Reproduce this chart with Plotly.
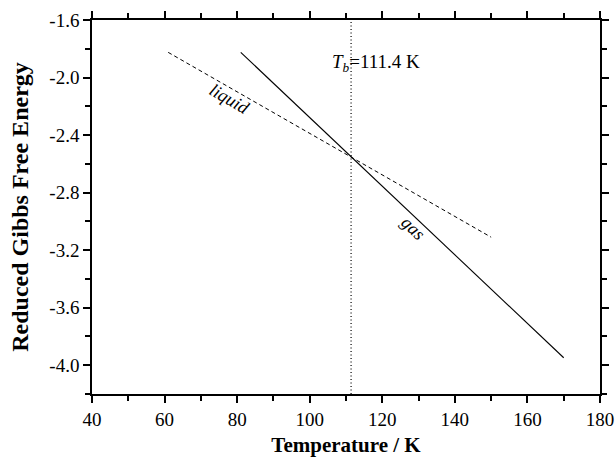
import plotly.graph_objects as go

liquid_T = [61, 150]
liquid_G = [-1.825, -3.11]
gas_T = [81, 170]
gas_G = [-1.825, -3.948]
Tb = 111.4
x_range = [40, 180]
y_range = [-4.2, -1.6]
x_ticks = [40, 60, 80, 100, 120, 140, 160, 180]
y_ticks = [-1.6, -2.0, -2.4, -2.8, -3.2, -3.6, -4.0]
y_ticklabels = ["-1.6", "-2.0", "-2.4", "-2.8", "-3.2", "-3.6", "-4.0"]

font_family = "Liberation Serif, Times New Roman, serif"

fig = go.Figure()
fig.add_trace(go.Scatter(x=liquid_T, y=liquid_G, mode="lines",
                         line=dict(color="black", width=1, dash="4px,3px"), showlegend=False))
fig.add_trace(go.Scatter(x=gas_T, y=gas_G, mode="lines",
                         line=dict(color="black", width=1.1), showlegend=False))
fig.add_trace(go.Scatter(x=[Tb, Tb], y=y_range, mode="lines",
                         line=dict(color="black", width=1.2, dash="1px,2.5px"), showlegend=False))

fig.add_annotation(x=118.2, y=-1.9, text="<i>T</i><sub><i>b</i></sub>=111.4 K",
                   showarrow=False, font=dict(size=19, family=font_family, color="black"))
fig.add_annotation(x=77.9, y=-2.15, text="<i>liquid</i>", textangle=30,
                   showarrow=False, font=dict(size=18, family=font_family, color="black"))
fig.add_annotation(x=128.5, y=-3.043, text="<i>gas</i>", textangle=44,
                   showarrow=False, font=dict(size=18, family=font_family, color="black"))

axis_common = dict(showgrid=False, zeroline=False, showline=True, linecolor="black",
                   linewidth=1.6, ticks="outside", ticklen=7, tickwidth=1.5,
                   tickcolor="black", mirror="ticks", automargin=False,
                   tickfont=dict(size=19, family=font_family, color="black"))

fig.update_xaxes(range=x_range, tickvals=x_ticks,
                 minor=dict(dtick=10, tick0=40, ticks="outside", ticklen=5, tickwidth=1.5, tickcolor="black"),
                 title=dict(text="<b>Temperature / K</b>", font=dict(size=21, family=font_family, color="black"),
                            standoff=16),
                 **axis_common)
fig.update_yaxes(range=y_range, tickvals=y_ticks, ticktext=y_ticklabels,
                 minor=dict(dtick=0.2, tick0=-4.0, ticks="outside", ticklen=5, tickwidth=1.5, tickcolor="black"),
                 title=dict(text="<b>Reduced Gibbs Free Energy</b>", font=dict(size=24, family=font_family, color="black"),
                            standoff=14),
                 **axis_common)

fig.update_layout(width=615, height=457, margin=dict(l=92, r=15, t=20, b=63),
                  plot_bgcolor="white", paper_bgcolor="white",
                  font=dict(family=font_family, color="black"))

fig.write_html("out.html", config={"displayModeBar": False},
               post_script="document.body.style.margin='0';document.body.style.overflow='hidden';")
